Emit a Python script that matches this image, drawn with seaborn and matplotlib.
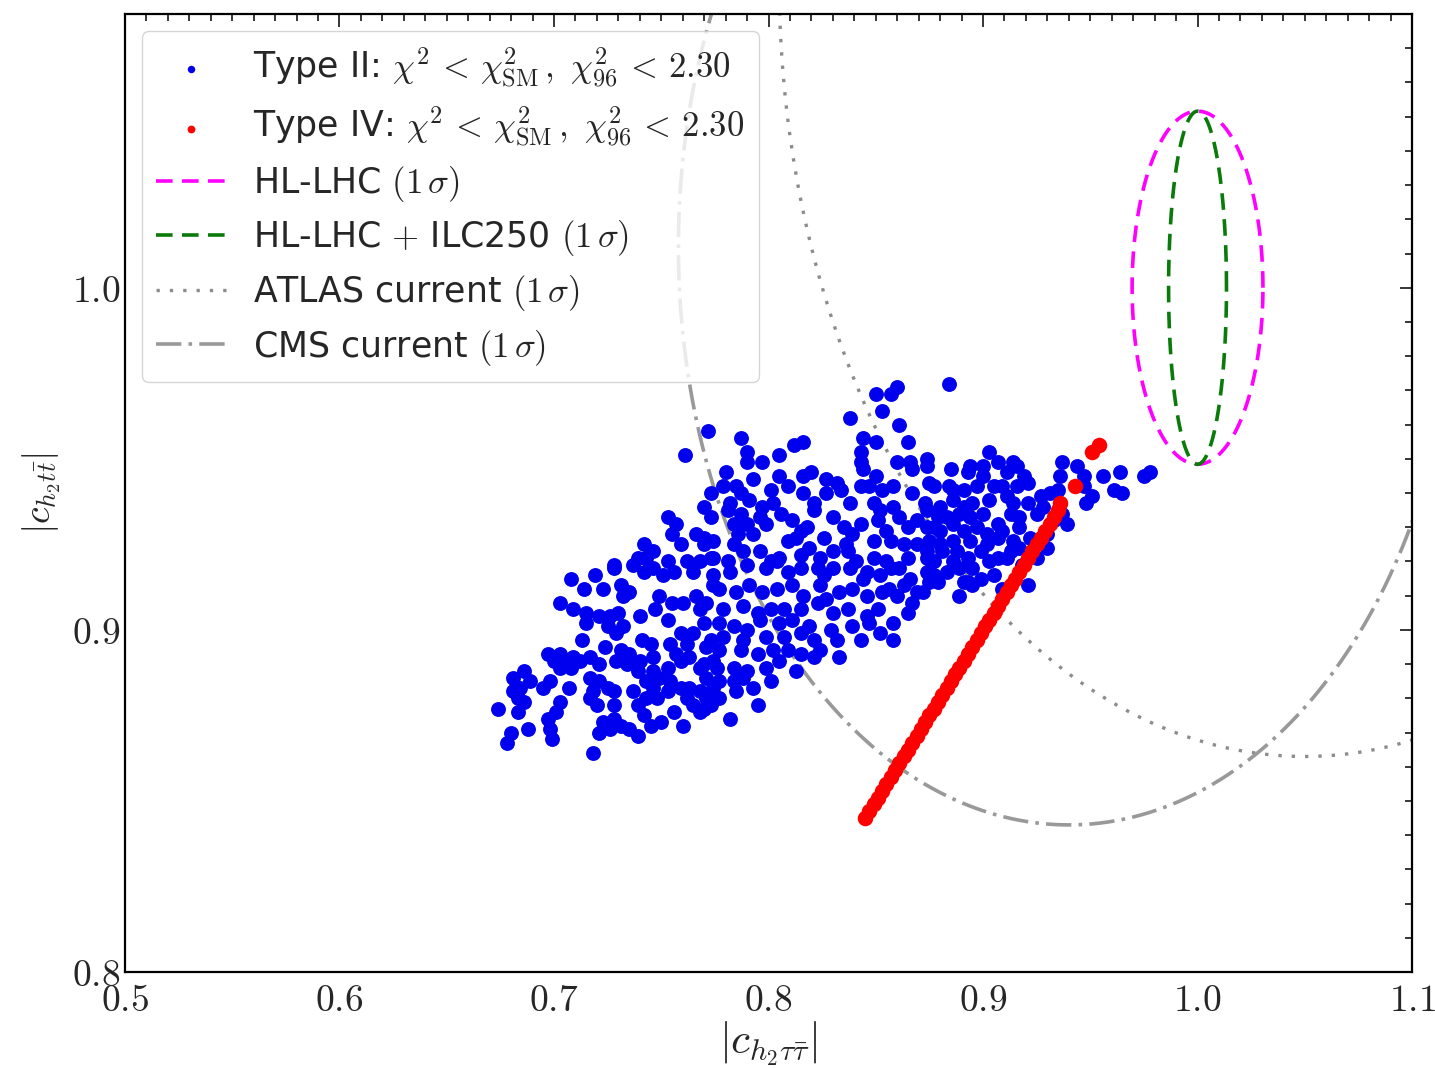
import numpy as np
import pandas as pd
import matplotlib
matplotlib.use("Agg")
import matplotlib.pyplot as plt
from matplotlib.ticker import MultipleLocator, FuncFormatter
import seaborn as sns

# ---- Type II points: |c_{h2 tau tau}| and |c_{h2 t t}| ----
type2_tau = [
    0.772, 0.761, 0.773, 0.770, 0.773, 0.753, 0.757, 0.755, 0.759, 0.766, 0.770, 0.774, 0.742, 0.746, 0.739, 0.743, 0.753, 0.728, 0.762, 0.768, 0.774,
    0.850, 0.857, 0.860, 0.853, 0.838, 0.861, 0.787, 0.844, 0.850, 0.865, 0.812, 0.816, 0.790, 0.790, 0.797, 0.805, 0.843, 0.843, 0.860, 0.866,
    0.874, 0.874, 0.867, 0.780, 0.785, 0.779, 0.805, 0.809, 0.801, 0.816, 0.820, 0.816, 0.827, 0.832, 0.827, 0.834, 0.844, 0.850, 0.843, 0.847,
    0.853, 0.858, 0.875, 0.867, 0.877, 0.782, 0.787, 0.791, 0.797, 0.802, 0.787, 0.784, 0.790, 0.796, 0.793, 0.806, 0.811, 0.815, 0.813, 0.821,
    0.821, 0.838, 0.830, 0.835, 0.839, 0.843, 0.849, 0.852, 0.858, 0.861, 0.851, 0.855, 0.865, 0.869, 0.874, 0.877, 0.849, 0.857, 0.863, 0.869,
    0.875, 0.770, 0.784, 0.788, 0.796, 0.801, 0.805, 0.815, 0.819, 0.824, 0.830, 0.837, 0.841, 0.849, 0.855, 0.865, 0.874, 0.773, 0.781, 0.790,
    0.774, 0.782, 0.799, 0.804, 0.809, 0.815, 0.823, 0.830, 0.838, 0.846, 0.852, 0.861, 0.866, 0.874, 0.879, 0.777, 0.785, 0.791, 0.797, 0.804,
    0.811, 0.816, 0.824, 0.827, 0.833, 0.839, 0.846, 0.853, 0.860, 0.867, 0.771, 0.779, 0.788, 0.795, 0.801, 0.807, 0.815, 0.823, 0.830, 0.837,
    0.846, 0.839, 0.847, 0.858, 0.770, 0.777, 0.784, 0.790, 0.796, 0.805, 0.811, 0.819, 0.829, 0.832, 0.843, 0.773, 0.779, 0.788, 0.799, 0.807,
    0.815, 0.821, 0.824, 0.821, 0.815, 0.809, 0.802, 0.795, 0.787, 0.777, 0.771, 0.833, 0.770, 0.776, 0.784, 0.790, 0.799, 0.805, 0.813, 0.771,
    0.777, 0.784, 0.788, 0.793, 0.801, 0.771, 0.777, 0.785, 0.770,
    0.708, 0.728, 0.723, 0.731, 0.735, 0.732, 0.737, 0.742, 0.746, 0.751, 0.756, 0.765, 0.774, 0.749, 0.755, 0.760, 0.766, 0.768, 0.709, 0.715,
    0.721, 0.726, 0.730, 0.740, 0.747, 0.753, 0.715, 0.725, 0.729, 0.732, 0.759, 0.765, 0.745, 0.754, 0.762, 0.697, 0.700, 0.703, 0.706, 0.709,
    0.712, 0.703, 0.708, 0.717, 0.721, 0.731, 0.735, 0.740, 0.746, 0.734, 0.729, 0.739, 0.746, 0.753, 0.759, 0.763, 0.768, 0.774, 0.681, 0.686,
    0.689, 0.684, 0.695, 0.698, 0.681, 0.683, 0.686, 0.674, 0.703, 0.701, 0.707, 0.717, 0.721, 0.718, 0.725, 0.717, 0.720, 0.728, 0.728, 0.737,
    0.739, 0.743, 0.746, 0.749, 0.754, 0.743, 0.748, 0.753, 0.759, 0.763, 0.762, 0.765, 0.768, 0.774, 0.756, 0.768, 0.773, 0.683, 0.697, 0.698,
    0.699, 0.680, 0.688, 0.678, 0.723, 0.728, 0.721, 0.726, 0.731, 0.735, 0.739, 0.742, 0.745, 0.750, 0.718,
    0.903, 0.894, 0.900, 0.907, 0.914, 0.916, 0.885, 0.893, 0.900, 0.911, 0.919, 0.921, 0.884, 0.886, 0.891, 0.897, 0.905, 0.909, 0.916, 0.937,
    0.944, 0.936, 0.947, 0.956, 0.964, 0.975, 0.978, 0.947, 0.961, 0.965, 0.951, 0.948, 0.873, 0.880, 0.886, 0.891, 0.895, 0.903, 0.911, 0.914,
    0.921, 0.927, 0.931, 0.935, 0.928, 0.936, 0.937, 0.939, 0.879, 0.883, 0.889, 0.894, 0.900, 0.907, 0.913, 0.917, 0.925, 0.874, 0.880, 0.886,
    0.891, 0.897, 0.902, 0.909, 0.917, 0.922, 0.880, 0.886, 0.894, 0.902, 0.907, 0.914, 0.874, 0.881, 0.888, 0.893, 0.899, 0.907, 0.913, 0.917,
    0.877, 0.886, 0.895, 0.903, 0.911, 0.877, 0.889, 0.891, 0.895, 0.875, 0.893, 0.884,
    0.781, 0.793, 0.799, 0.786, 0.851, 0.856, 0.863, 0.869, 0.852, 0.865, 0.858, 0.883, 0.899, 0.905, 0.918, 0.925, 0.930, 0.921, 0.909, 0.714,
    0.719, 0.703, 0.818, 0.826, 0.809, 0.930, 0.933, 0.741, 0.757, 0.724, 0.713, 0.782, 0.795, 0.760, 0.826, 0.844, 0.857, 0.836, 0.872, 0.889,
]
type2_t = [
    0.958, 0.951, 0.940, 0.936, 0.933, 0.933, 0.931, 0.928, 0.925, 0.928, 0.925, 0.926, 0.925, 0.923, 0.921, 0.921, 0.920, 0.919, 0.920, 0.920, 0.921,
    0.969, 0.969, 0.971, 0.964, 0.962, 0.960, 0.956, 0.956, 0.955, 0.955, 0.954, 0.955, 0.952, 0.949, 0.949, 0.951, 0.952, 0.949, 0.949, 0.949,
    0.950, 0.948, 0.947, 0.946, 0.942, 0.942, 0.945, 0.942, 0.941, 0.945, 0.946, 0.940, 0.944, 0.943, 0.940, 0.941, 0.947, 0.945, 0.942, 0.942,
    0.941, 0.942, 0.943, 0.940, 0.942, 0.937, 0.940, 0.938, 0.936, 0.937, 0.934, 0.931, 0.931, 0.933, 0.928, 0.934, 0.932, 0.929, 0.927, 0.937,
    0.935, 0.937, 0.933, 0.930, 0.928, 0.931, 0.937, 0.935, 0.936, 0.933, 0.932, 0.929, 0.930, 0.932, 0.935, 0.930, 0.926, 0.926, 0.925, 0.925,
    0.926, 0.927, 0.925, 0.923, 0.923, 0.920, 0.921, 0.922, 0.924, 0.921, 0.923, 0.923, 0.920, 0.921, 0.920, 0.921, 0.921, 0.921, 0.920, 0.919,
    0.916, 0.917, 0.918, 0.920, 0.917, 0.918, 0.918, 0.918, 0.918, 0.917, 0.916, 0.918, 0.915, 0.917, 0.914, 0.912, 0.911, 0.913, 0.911, 0.912,
    0.913, 0.910, 0.913, 0.909, 0.911, 0.912, 0.910, 0.911, 0.910, 0.908, 0.908, 0.906, 0.907, 0.905, 0.906, 0.906, 0.906, 0.908, 0.905, 0.906,
    0.904, 0.901, 0.902, 0.902, 0.902, 0.902, 0.901, 0.900, 0.903, 0.902, 0.903, 0.901, 0.900, 0.897, 0.897, 0.897, 0.898, 0.897, 0.898, 0.898,
    0.899, 0.897, 0.894, 0.892, 0.893, 0.894, 0.894, 0.893, 0.894, 0.894, 0.895, 0.892, 0.890, 0.889, 0.889, 0.888, 0.889, 0.891, 0.888, 0.886,
    0.885, 0.885, 0.886, 0.883, 0.885, 0.880, 0.880, 0.882, 0.877,
    0.915, 0.918, 0.912, 0.913, 0.911, 0.910, 0.919, 0.917, 0.918, 0.916, 0.917, 0.917, 0.913, 0.910, 0.908, 0.908, 0.910, 0.906, 0.906, 0.905,
    0.904, 0.904, 0.905, 0.904, 0.906, 0.903, 0.902, 0.901, 0.899, 0.901, 0.899, 0.899, 0.896, 0.896, 0.896, 0.893, 0.891, 0.893, 0.891, 0.892,
    0.891, 0.889, 0.889, 0.892, 0.890, 0.894, 0.893, 0.891, 0.892, 0.890, 0.891, 0.888, 0.888, 0.889, 0.891, 0.892, 0.889, 0.891, 0.886, 0.888,
    0.885, 0.883, 0.883, 0.885, 0.882, 0.880, 0.879, 0.877, 0.879, 0.876, 0.883, 0.886, 0.885, 0.882, 0.883, 0.880, 0.878, 0.882, 0.878, 0.882,
    0.878, 0.885, 0.883, 0.886, 0.885, 0.880, 0.880, 0.882, 0.883, 0.883, 0.880, 0.878, 0.882, 0.883, 0.876, 0.876, 0.878, 0.876, 0.874, 0.871,
    0.868, 0.870, 0.871, 0.867, 0.873, 0.874, 0.870, 0.871, 0.872, 0.871, 0.869, 0.875, 0.872, 0.873, 0.864,
    0.952, 0.948, 0.948, 0.949, 0.949, 0.948, 0.947, 0.946, 0.945, 0.946, 0.945, 0.943, 0.942, 0.941, 0.941, 0.942, 0.942, 0.942, 0.942, 0.949,
    0.948, 0.945, 0.945, 0.945, 0.946, 0.945, 0.946, 0.942, 0.941, 0.940, 0.939, 0.937, 0.937, 0.936, 0.938, 0.936, 0.937, 0.938, 0.939, 0.937,
    0.937, 0.939, 0.940, 0.941, 0.936, 0.937, 0.934, 0.931, 0.933, 0.933, 0.934, 0.933, 0.934, 0.931, 0.934, 0.933, 0.934, 0.930, 0.929, 0.931,
    0.929, 0.930, 0.928, 0.929, 0.930, 0.927, 0.925, 0.926, 0.926, 0.925, 0.927, 0.926, 0.923, 0.923, 0.923, 0.921, 0.923, 0.921, 0.923, 0.924,
    0.920, 0.920, 0.918, 0.920, 0.921, 0.916, 0.918, 0.914, 0.913, 0.914, 0.914, 0.972,
    0.935, 0.944, 0.931, 0.928, 0.906, 0.912, 0.913, 0.911, 0.899, 0.905, 0.897, 0.917, 0.915, 0.916, 0.919, 0.921, 0.924, 0.913, 0.912, 0.912,
    0.916, 0.908, 0.930, 0.927, 0.926, 0.928, 0.932, 0.897, 0.893, 0.895, 0.897, 0.874, 0.878, 0.872, 0.916, 0.915, 0.918, 0.925, 0.911, 0.910,
]

# ---- Type IV points ----
type4_tau = [
    0.845, 0.847, 0.849, 0.851, 0.853, 0.855, 0.857, 0.859, 0.861, 0.863, 0.865, 0.867, 0.869, 0.871, 0.873, 0.875,
    0.877, 0.879, 0.881, 0.883, 0.885, 0.887, 0.889, 0.891, 0.893, 0.895, 0.897, 0.899, 0.901, 0.903, 0.905, 0.907,
    0.909, 0.911, 0.913, 0.915, 0.917, 0.919, 0.921, 0.923, 0.925, 0.927, 0.929, 0.931, 0.933, 0.935, 0.936,
    0.943, 0.951, 0.954,
]
type4_t = [
    0.845, 0.847, 0.849, 0.851, 0.853, 0.855, 0.857, 0.859, 0.861, 0.863, 0.865, 0.867, 0.869, 0.871, 0.873, 0.875,
    0.877, 0.879, 0.881, 0.883, 0.885, 0.887, 0.889, 0.891, 0.893, 0.895, 0.897, 0.899, 0.901, 0.903, 0.905, 0.907,
    0.909, 0.911, 0.913, 0.915, 0.917, 0.919, 0.921, 0.923, 0.925, 0.927, 0.929, 0.931, 0.933, 0.935, 0.937,
    0.942, 0.952, 0.954,
]

# ---- 1 sigma regions: centre (tau, t) and half-axes (tau, t) ----
hllhc_centre, hllhc_axes = [1.0, 1.0], [0.0305, 0.0516]
ilc_centre, ilc_axes = [1.0, 1.0], [0.0135, 0.0516]
atlas_centre, atlas_axes = [1.05, 1.09], [0.245, 0.227]
cms_centre, cms_axes = [0.94, 1.012], [0.182, 0.169]

x_ticks = [0.5, 0.6, 0.7, 0.8, 0.9, 1.0, 1.1]
y_ticks = [0.8, 0.9, 1.0]

sns.set_style("white")
plt.rcParams["font.family"] = ["DejaVu Sans"]
plt.rcParams["mathtext.fontset"] = "cm"

fig = plt.figure(figsize=(14.35, 10.69), dpi=100)
ax = fig.add_axes([0.0871, 0.0907, 0.8969, 0.8962])

theta = np.linspace(0, 2 * np.pi, 600)


def ellipse(centre, axes):
    return centre[0] + axes[0] * np.cos(theta), centre[1] + axes[1] * np.sin(theta)


ex, ey = ellipse(hllhc_centre, hllhc_axes)
ax.plot(ex, ey, color="#ff00ff", lw=2.6, dashes=(4.6, 2.6), label=r"HL-LHC $(1\,\sigma)$")
ex, ey = ellipse(ilc_centre, ilc_axes)
ax.plot(ex, ey, color="#0a7a0a", lw=2.6, dashes=(4.6, 2.6), label=r"HL-LHC $+$ ILC250 $(1\,\sigma)$")
ex, ey = ellipse(atlas_centre, atlas_axes)
ax.plot(ex, ey, color="#8c8c8c", lw=2.4, dashes=(1, 3), label=r"ATLAS current $(1\,\sigma)$")
ex, ey = ellipse(cms_centre, cms_axes)
ax.plot(ex, ey, color="#999999", lw=2.6, dashes=(7, 2, 1, 2), label=r"CMS current $(1\,\sigma)$")

df2 = pd.DataFrame({"tau": type2_tau, "t": type2_t})
df4 = pd.DataFrame({"tau": type4_tau, "t": type4_t})
sns.scatterplot(data=df2, x="tau", y="t", color="#0000ee", s=115, linewidth=0, ax=ax, zorder=3,
                label=r"Type II: $\chi^2 \,<\, \chi^2_{\rm SM}\,,\ \chi^2_{96} \,<\, 2.30$")
sns.scatterplot(data=df4, x="tau", y="t", color="#ff0000", s=125, linewidth=0, ax=ax, zorder=4,
                label=r"Type IV: $\chi^2 \,<\, \chi^2_{\rm SM}\,,\ \chi^2_{96} \,<\, 2.30$")

ax.set_xlim(0.5, 1.1)
ax.set_ylim(0.8, 1.08)
ax.set_xticks(x_ticks)
ax.set_yticks(y_ticks)
ax.xaxis.set_minor_locator(MultipleLocator(0.01))
ax.yaxis.set_minor_locator(MultipleLocator(0.01))
fmt = FuncFormatter(lambda v, _: f"${v:.1f}$")
ax.xaxis.set_major_formatter(fmt)
ax.yaxis.set_major_formatter(fmt)
ax.tick_params(which="both", direction="in", top=True, right=True, labelsize=27, width=1.3)
ax.tick_params(which="major", length=9)
ax.tick_params(which="minor", length=5)
ax.tick_params(axis="x", pad=8)
for sp in ax.spines.values():
    sp.set_linewidth(1.6)
    sp.set_color("black")

ax.set_xlabel(r"$|c_{h_2\tau\bar{\tau}}|$", fontsize=31, labelpad=0)
ax.set_ylabel(r"$|c_{h_2 t\bar{t}}|$", fontsize=27, labelpad=6)

handles, labels = ax.get_legend_handles_labels()
order = [4, 5, 0, 1, 2, 3]
ax.legend([handles[i] for i in order], [labels[i] for i in order], loc="upper left",
          fontsize=25, markerscale=0.5, handlelength=2.0, frameon=True,
          edgecolor="0.8", framealpha=0.8, labelspacing=0.42)

fig.savefig("out.png", dpi=100)
